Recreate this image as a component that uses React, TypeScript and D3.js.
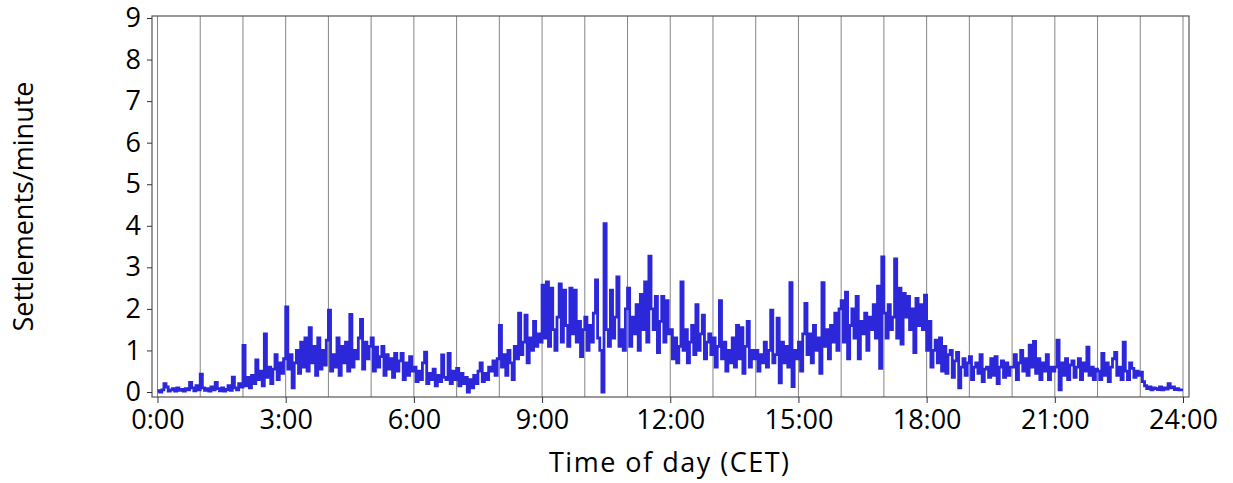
import React, { useEffect, useRef } from "react";
import * as d3 from "d3";

// settlements per minute, sampled every 3 minutes, one row per hour of the day (CET)
const settlementRows: number[][] = [
  [0.03, 0.0, 0.05, 0.2, 0.12, 0.02, 0.05, 0.08, 0.02, 0.1, 0.04, 0.06, 0.02, 0.08, 0.05, 0.23, 0.1, 0.03, 0.15, 0.05], // 0h
  [0.43, 0.1, 0.04, 0.08, 0.02, 0.12, 0.05, 0.23, 0.08, 0.03, 0.1, 0.02, 0.06, 0.15, 0.04, 0.36, 0.1, 0.05, 0.2, 0.12], // 1h
  [1.12, 0.15, 0.35, 0.1, 0.4, 0.2, 0.77, 0.3, 0.5, 0.15, 1.4, 0.35, 0.6, 0.2, 0.55, 0.9, 0.3, 0.7, 0.45, 0.8], // 2h
  [2.05, 0.55, 0.9, 0.1, 0.7, 1.0, 0.45, 1.2, 0.6, 1.3, 0.5, 1.55, 0.7, 1.1, 0.4, 1.3, 0.55, 1.0, 0.65, 1.25], // 3h
  [1.97, 0.5, 0.9, 0.6, 1.3, 0.4, 1.1, 0.7, 1.2, 0.5, 1.87, 0.6, 1.0, 0.8, 1.3, 1.75, 0.55, 1.2, 0.8, 1.1], // 4h
  [1.3, 0.5, 1.08, 0.6, 0.85, 1.1, 0.4, 0.9, 0.55, 0.8, 0.35, 0.93, 0.5, 0.75, 0.93, 0.3, 0.7, 0.4, 0.85, 0.5], // 5h
  [0.6, 0.25, 0.5, 0.3, 0.7, 0.96, 0.2, 0.45, 0.3, 0.55, 0.15, 0.4, 0.25, 0.89, 0.35, 0.3, 0.93, 0.2, 0.5, 0.3], // 6h
  [0.57, 0.15, 0.45, 0.2, 0.35, 0.0, 0.3, 0.1, 0.4, 0.2, 0.5, 0.7, 0.25, 0.45, 0.3, 0.6, 0.5, 0.75, 0.4, 0.8], // 7h
  [1.6, 0.6, 0.9, 0.4, 1.0, 0.7, 0.3, 1.1, 0.8, 1.9, 0.9, 1.2, 1.85, 0.7, 1.3, 1.0, 1.7, 1.1, 1.4, 1.2], // 8h
  [2.57, 1.3, 2.65, 1.1, 2.5, 1.5, 1.0, 1.8, 2.6, 1.2, 2.45, 1.6, 1.1, 2.5, 1.4, 2.45, 1.2, 1.7, 0.85, 1.5], // 9h
  [1.8, 1.0, 1.6, 1.2, 1.9, 2.7, 1.3, 1.0, 0.0, 4.05, 1.5, 1.1, 2.45, 1.3, 1.8, 2.77, 1.1, 1.5, 1.0, 2.0], // 10h
  [2.5, 1.1, 1.8, 1.4, 2.1, 1.0, 2.35, 1.5, 2.65, 1.2, 3.27, 2.0, 1.5, 2.3, 0.95, 1.7, 2.3, 1.2, 2.2, 1.4], // 11h
  [1.5, 0.8, 1.3, 0.7, 1.1, 2.65, 1.0, 1.5, 0.7, 1.2, 1.6, 0.9, 2.1, 1.0, 1.4, 1.85, 0.8, 1.2, 1.4, 0.9], // 12h
  [1.3, 0.6, 1.1, 2.2, 0.8, 1.2, 0.5, 1.0, 0.7, 1.3, 0.6, 1.6, 0.8, 1.55, 0.45, 1.1, 1.7, 0.6, 1.0, 0.8], // 13h
  [1.0, 0.5, 0.9, 0.7, 1.2, 0.6, 1.0, 1.97, 0.7, 0.9, 1.78, 0.22, 1.2, 0.7, 1.1, 0.6, 2.63, 0.13, 1.0, 0.8], // 14h
  [1.2, 0.5, 1.4, 2.13, 0.9, 1.4, 0.7, 1.6, 1.0, 1.3, 0.45, 2.63, 1.1, 1.5, 0.8, 1.6, 1.2, 1.9, 1.0, 2.0], // 15h
  [2.2, 1.2, 2.4, 0.8, 1.6, 2.0, 1.3, 2.3, 0.8, 1.7, 1.4, 1.9, 1.0, 1.8, 1.5, 2.1, 1.3, 2.55, 0.57, 3.25], // 16h
  [1.9, 1.3, 2.1, 1.5, 1.8, 3.2, 1.3, 2.5, 1.15, 2.37, 1.8, 2.3, 1.5, 2.0, 0.95, 2.25, 1.6, 2.1, 1.5, 2.33], // 17h
  [1.0, 1.7, 0.6, 1.0, 1.25, 0.7, 1.3, 0.5, 1.1, 0.45, 0.9, 1.0, 0.35, 0.75, 0.95, 0.1, 0.6, 0.8, 0.4, 0.7], // 18h
  [0.85, 0.3, 0.6, 0.7, 0.45, 0.9, 0.25, 0.55, 0.6, 0.35, 0.8, 0.4, 0.85, 0.2, 0.6, 0.75, 0.35, 0.7, 0.4, 0.6], // 19h
  [0.6, 0.9, 0.3, 0.7, 1.0, 0.5, 0.8, 0.4, 1.13, 0.6, 1.22, 0.45, 0.8, 0.3, 0.7, 0.5, 0.9, 0.3, 0.6, 0.5], // 20h
  [0.6, 1.25, 0.05, 0.7, 0.4, 0.8, 0.3, 0.65, 0.75, 0.35, 0.6, 0.8, 0.3, 0.7, 0.5, 1.08, 0.4, 0.6, 0.3, 0.55], // 21h
  [0.5, 0.3, 0.93, 0.4, 0.7, 0.25, 0.6, 0.8, 0.95, 0.4, 0.6, 0.3, 1.2, 0.5, 0.3, 0.7, 0.57, 0.35, 0.5, 0.4], // 22h
  [0.48, 0.25, 0.15, 0.08, 0.12, 0.05, 0.1, 0.08, 0.06, 0.12, 0.05, 0.1, 0.07, 0.2, 0.1, 0.12, 0.06, 0.08, 0.05, 0.05], // 23h
];
const lastValue = 0.05; // at 24:00

const xTickHours = [0, 3, 6, 9, 12, 15, 18, 21, 24];
const gridHours = d3.range(0, 25);
const yTicks = [0, 1, 2, 3, 4, 5, 6, 7, 8, 9];

const W = 1233;
const H = 483;
const FONT = "'Open Sans', sans-serif";

const App = () => {
  const svgRef = useRef<SVGSVGElement>(null);

  useEffect(() => {
    const svg = d3.select(svgRef.current);
    svg.selectAll("*").remove();

    const points: [number, number][] = [];
    settlementRows.forEach((row, h) => {
      row.forEach((v, i) => points.push([h + i / row.length, v]));
    });
    points.push([24, lastValue]);

    const x = d3.scaleLinear().domain([0, 24]).range([157.5, 1183]);
    const y = d3.scaleLinear().domain([0, 9]).range([392, 18]);

    const frame = { left: 152, right: 1189, top: 16, bottom: 397 };

    // hourly grid lines
    svg.append("g")
      .selectAll("line")
      .data(gridHours)
      .enter()
      .append("line")
      .attr("x1", (d) => x(d))
      .attr("x2", (d) => x(d))
      .attr("y1", frame.top)
      .attr("y2", frame.bottom)
      .attr("stroke", "#858585")
      .attr("stroke-width", 1);

    // the series
    const line = d3.line<[number, number]>()
      .x((d) => x(d[0]))
      .y((d) => y(d[1]))
      .curve(d3.curveStepAfter);

    svg.append("path")
      .datum(points)
      .attr("d", line)
      .attr("fill", "none")
      .attr("stroke", "#2c27d9")
      .attr("stroke-width", 2.8);

    // frame
    svg.append("rect")
      .attr("x", frame.left)
      .attr("y", frame.top)
      .attr("width", frame.right - frame.left)
      .attr("height", frame.bottom - frame.top)
      .attr("fill", "none")
      .attr("stroke", "#555")
      .attr("stroke-width", 1.2);

    // y axis
    const yAxis = svg.append("g")
      .attr("transform", `translate(${frame.left},0)`)
      .call(d3.axisLeft(y).tickValues(yTicks).tickSize(5).tickPadding(6).tickFormat(d3.format("d")));
    yAxis.select(".domain").remove();
    yAxis.selectAll("line").attr("stroke", "#333");
    yAxis.selectAll("text")
      .attr("font-family", FONT)
      .attr("font-size", 27)
      .attr("fill", "#000");

    // x axis
    const xAxis = svg.append("g")
      .attr("transform", `translate(0,${frame.bottom})`)
      .call(d3.axisBottom(x).tickValues(xTickHours).tickSize(6).tickPadding(7).tickFormat((d) => `${d}:00`));
    xAxis.select(".domain").remove();
    xAxis.selectAll("line").attr("stroke", "#333");
    xAxis.selectAll("text")
      .attr("font-family", FONT)
      .attr("font-size", 27)
      .attr("fill", "#000");

    svg.append("text")
      .attr("text-anchor", "middle")
      .attr("x", 669)
      .attr("y", 472)
      .attr("font-family", FONT)
      .attr("font-size", 27)
      .attr("textLength", 240)
      .attr("lengthAdjust", "spacing")
      .text("Time of day (CET)");

    svg.append("text")
      .attr("text-anchor", "middle")
      .attr("transform", `translate(33, ${(frame.top + frame.bottom) / 2}) rotate(-90)`)
      .attr("font-family", FONT)
      .attr("font-size", 27)
      .text("Settlements/minute");
  }, []);

  return (
    <svg
      ref={svgRef}
      width={W}
      height={H}
      style={{ position: "absolute", left: 0, top: 0, background: "#fff" }}
    ></svg>
  );
};

export default App;
